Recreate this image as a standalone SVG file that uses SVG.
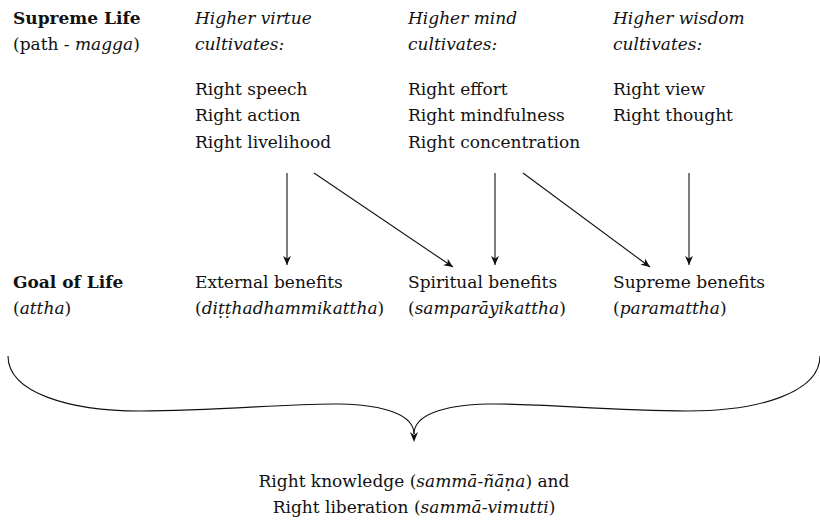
<svg xmlns="http://www.w3.org/2000/svg" width="820" height="521" viewBox="0 0 820 521">
<style>
text { font-family: "DejaVu Serif", "Liberation Serif", serif; font-size: 17px; fill: #111; }
.b { font-weight: bold; }
.i { font-style: italic; }
.c { text-anchor: middle; }
.ln { fill: none; stroke: #111; stroke-width: 1.1; }
</style>
<defs>
<marker id="ah" viewBox="-10 -5 11 10" refX="0" refY="0" markerWidth="11" markerHeight="10" markerUnits="userSpaceOnUse" orient="auto">
<path d="M0,0 L-9,-4 L-6.5,0 L-9,4 z" fill="#111"/>
</marker>
</defs>
<g id="supreme-life">
<text x="13" y="24" class="b">Supreme Life</text>
<text x="13" y="50">(path - <tspan class="i">magga</tspan>)</text>
</g>
<g id="virtue">
<text x="195" y="24" class="i">Higher virtue</text>
<text x="195" y="50" class="i">cultivates:</text>
<text x="195" y="95">Right speech</text>
<text x="195" y="121">Right action</text>
<text x="195" y="148">Right livelihood</text>
</g>
<g id="mind">
<text x="408" y="24" class="i">Higher mind</text>
<text x="408" y="50" class="i">cultivates:</text>
<text x="408" y="95">Right effort</text>
<text x="408" y="121">Right mindfulness</text>
<text x="408" y="148">Right concentration</text>
</g>
<g id="wisdom">
<text x="613" y="24" class="i">Higher wisdom</text>
<text x="613" y="50" class="i">cultivates:</text>
<text x="613" y="95">Right view</text>
<text x="613" y="121">Right thought</text>
</g>
<g id="goal-of-life">
<text x="13" y="288" class="b">Goal of Life</text>
<text x="13" y="314">(<tspan class="i">attha</tspan>)</text>
</g>
<g id="external">
<text x="195" y="288">External benefits</text>
<text x="195" y="314">(<tspan class="i">diṭṭhadhammikattha</tspan>)</text>
</g>
<g id="spiritual">
<text x="408" y="288">Spiritual benefits</text>
<text x="408" y="314">(<tspan class="i">samparāyikattha</tspan>)</text>
</g>
<g id="supreme">
<text x="613" y="288">Supreme benefits</text>
<text x="613" y="314">(<tspan class="i">paramattha</tspan>)</text>
</g>
<g id="result">
<text x="414" y="487" class="c">Right knowledge (<tspan class="i">sammā-ñāṇa</tspan>) and</text>
<text x="414" y="513" class="c">Right liberation (<tspan class="i">sammā-vimutti</tspan>)</text>
</g>
<g id="connectors">
<line class="ln" x1="287" y1="173" x2="287" y2="265" marker-end="url(#ah)"/>
<line class="ln" x1="314" y1="173" x2="453" y2="267" marker-end="url(#ah)"/>
<line class="ln" x1="495" y1="173" x2="495" y2="265" marker-end="url(#ah)"/>
<line class="ln" x1="523" y1="173" x2="650" y2="267" marker-end="url(#ah)"/>
<line class="ln" x1="689" y1="173" x2="689" y2="265" marker-end="url(#ah)"/>
<path class="ln" d="M8,356 C8,393 70,411 140,411 C220,411 290,403 340,404 C385,405 414,415 414,434"/>
<path class="ln" d="M820,356 C820,393 758,411 688,411 C608,411 538,403 488,404 C443,405 414,415 414,434"/>
<path d="M414,442 L410,432 L414,435 L418,432 z" fill="#111"/>
</g>
</svg>
